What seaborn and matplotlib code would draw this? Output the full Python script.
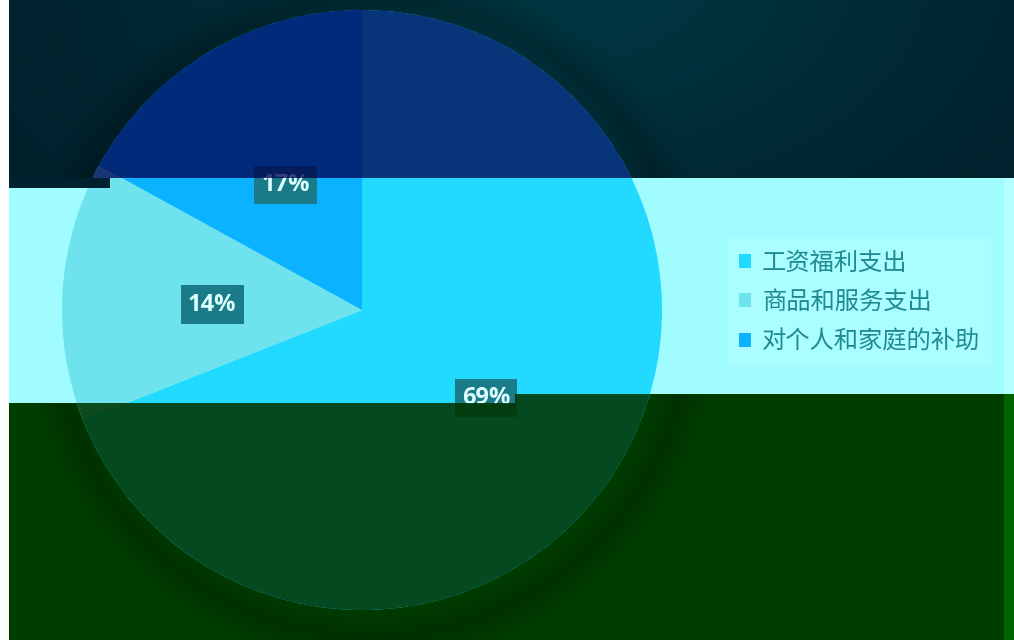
import matplotlib
matplotlib.use('Agg')
import numpy as np
import matplotlib.pyplot as plt
from matplotlib.patches import Rectangle, Circle
from matplotlib.transforms import offset_copy
import seaborn as sns

# data
categories = ['工资福利支出', '商品和服务支出', '对个人和家庭的补助']
shares = [69, 14, 17]
colors = ['#22d9ff', '#6fe3ed', '#0ab2ff']

sns.set_style('white')
plt.rcParams['font.family'] = ['Noto Sans CJK SC', 'DejaVu Sans']

W, H = 1014, 640
fig = plt.figure(figsize=(W / 100, H / 100), dpi=100)
fig.patch.set_facecolor('white')

# ---- background image (bands, glow, pie shadow) ----
yy, xx = np.mgrid[0:H, 0:W] + 0.5
img = np.ones((H, W, 3))
top = (yy < 178) | ((yy < 188) & (xx < 110))
bottom = (yy >= 403) | ((yy >= 394) & (xx >= 515))
mid = ~top & ~bottom
img[mid] = np.array([160, 252, 255]) / 255
img[mid & (xx >= 1004)] = np.array([180, 255, 255]) / 255
# top band: soft glow near the top middle
glow = np.exp(-(((xx - 560) / 420) ** 2 + ((yy + 30) / 260) ** 2))
dark_top = np.array([0, 30, 42]) / 255
light_top = np.array([0, 54, 64]) / 255
for k in range(3):
    img[..., k] = np.where(top, dark_top[k] + (light_top[k] - dark_top[k]) * glow,
                           img[..., k])
img[bottom] = np.array([0, 62, 0]) / 255
img[bottom & (xx >= 1004)] = np.array([0, 100, 0]) / 255
# soft drop shadow outside the pie, offset to lower right
d = np.hypot(xx - 372, yy - 318)
ring = np.clip(1 - np.abs(d - 318) / 40, 0, 1) ** 1.5
shade = 1 - 0.22 * ring
img[top | bottom] *= shade[top | bottom][:, None]
img[:, :9] = 1.0

ax_bg = fig.add_axes([0, 0, 1, 1], zorder=-1)
ax_bg.imshow(img, extent=(0, W, H, 0), aspect='auto', interpolation='nearest')
ax_bg.set_xlim(0, W)
ax_bg.set_ylim(H, 0)
ax_bg.axis('off')

# ---- pie ----
ax = fig.add_axes([62 / W, 30 / H, 600 / W, 600 / H])
ax.set_facecolor('none')

pal = sns.color_palette(colors)
wedges, texts, autotexts = ax.pie(
    shares, colors=pal, startangle=90, counterclock=False,
    autopct='%.0f%%', pctdistance=0.5,
    wedgeprops=dict(linewidth=0))
ax.set_xlim(-1, 1)
ax.set_ylim(-1, 1)

label_tr = offset_copy(ax.transData, fig=fig, x=0, y=-4, units='dots')
for t in autotexts:
    t.set_transform(label_tr)
    t.set_family(['Open Sans', 'DejaVu Sans'])
    t.set_fontweight('bold')
    t.set_fontsize(17)
    t.set_color('#dcffff')
    t.set_bbox(dict(boxstyle='square,pad=0.3', facecolor='#1b7b88',
                    edgecolor='none'))


def px_rect(x0, y0, x1, y1, color, **kw):
    # rectangle given in image pixels (top-left origin) -> figure fraction
    return Rectangle((x0 / W, 1 - y1 / H), (x1 - x0) / W, (y1 - y0) / H,
                     transform=fig.transFigure, facecolor=color,
                     edgecolor='none', **kw)


# dark overlays over the pie in the top and bottom bands
clip = Circle((0, 0), 1, transform=ax.transData)
overlays = [
    (9, 0, 1014, 178, '#000050', 0.76),
    (9, 403, 1014, 640, '#003500', 0.88),
    (515, 394, 1004, 403, '#003500', 0.88),
]
for x0, y0, x1, y1, c, a in overlays:
    r = px_rect(x0, y0, x1, y1, c, alpha=a, zorder=6)
    fig.add_artist(r)
    r.set_clip_path(clip)
fig.add_artist(px_rect(9, 178, 110, 188, '#00222e', zorder=6))

leg = ax.legend(wedges, categories, loc='center left',
                bbox_to_anchor=(728 / W, 1 - 302 / H),
                bbox_transform=fig.transFigure, borderaxespad=0,
                frameon=True, fancybox=False,
                prop=dict(size=17.5, weight='light'),
                handlelength=0.5, handleheight=0.5, handletextpad=0.45,
                labelspacing=0.56, borderpad=0.45)
leg.get_frame().set_facecolor('#aafeff')
leg.get_frame().set_edgecolor('none')
leg.get_frame().set_alpha(1)
for t in leg.get_texts():
    t.set_color('#1f8a8f')

fig.savefig('out.png', dpi=100)
